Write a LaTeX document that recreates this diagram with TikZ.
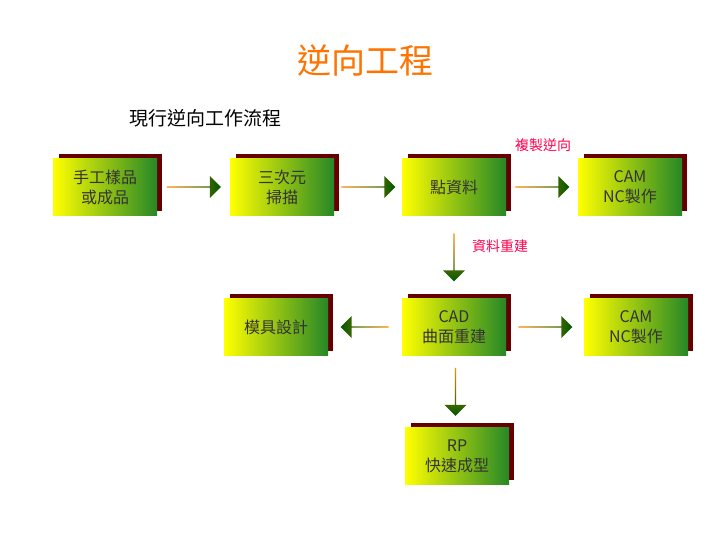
\documentclass[tikz,border=0pt]{standalone}
\usepackage{fontspec}
\newfontfamily\cjk{Noto Sans CJK TC}
\usetikzlibrary{shapes.arrows,calc}
\begin{document}
\begin{tikzpicture}[x=1pt,y=-1pt,
  box/.style={minimum width=104pt,minimum height=57pt,inner sep=0pt,left color=yellow,right color=green!45!black!85,
     font=\cjk\fontsize{16}{20}\selectfont,align=center,text=black!80},
  shadowbox/.style={fill=red!40!black},
  harr/.style={single arrow,minimum height=54pt,minimum width=22pt,single arrow head extend=4pt,inner sep=0pt,
     left color=orange!90!yellow,right color=green!35!black},
  varr/.style={single arrow,shape border rotate=270,minimum height=48pt,minimum width=22pt,single arrow head extend=4pt,inner sep=0pt,
     top color=orange!90!yellow,bottom color=green!35!black},
  lbl/.style={text=red!70!magenta,font=\cjk\fontsize{14}{16}\selectfont}]
\useasboundingbox (0,0) rectangle (720,540);
\node[text=orange!90!red,font=\cjk\fontsize{34}{40}\selectfont] (title) at (365,60) {逆向工程};
\node[font=\cjk\fontsize{19}{22}\selectfont] (sub) at (205,118) {現行逆向工作流程};
\foreach \n/\x/\y in {a/105/187,b/282/187,c/454/187,d/630/187,e/276/327,f/454/327,g/636/327,h/457/456}{
  \fill[shadowbox] (\x-46,\y-33) rectangle (\x+57,\y+24);
}
\node[box] (a) at (105,187) {手工樣品\\或成品};
\node[box] (b) at (282,187) {三次元\\掃描};
\node[box] (c) at (454,187) {點資料};
\node[box] (d) at (630,187) {CAM\\NC製作};
\node[box] (e) at (276,327) {模具設計};
\node[box] (f) at (454,327) {CAD\\曲面重建};
\node[box] (g) at (636,327) {CAM\\NC製作};
\node[box] (h) at (457,456) {RP\\快速成型};
\node[harr] (ab) at ($(a.east)!0.5!(b.west)$) {};
\node[harr] (bc) at ($(b.east)!0.5!(c.west)$) {};
\node[harr] (cd) at ($(c.east)!0.5!(d.west)$) {};
\node[harr,shape border rotate=180,left color=green!35!black,right color=orange!90!yellow,minimum height=48pt] (fe) at ($(f.west)!0.5!(e.east)$) {};
\node[harr] (fg) at ($(f.east)!0.5!(g.west)$) {};
\node[varr] (cf) at ($(c.south)!0.5!(f.north)$) {};
\node[varr] (fh) at ($(f.south)!0.5!(h.north)$) {};
\node[lbl] (l1) at (543,145) {複製逆向};
\node[lbl] (l2) at (500,246) {資料重建};
\end{tikzpicture}
\end{document}
